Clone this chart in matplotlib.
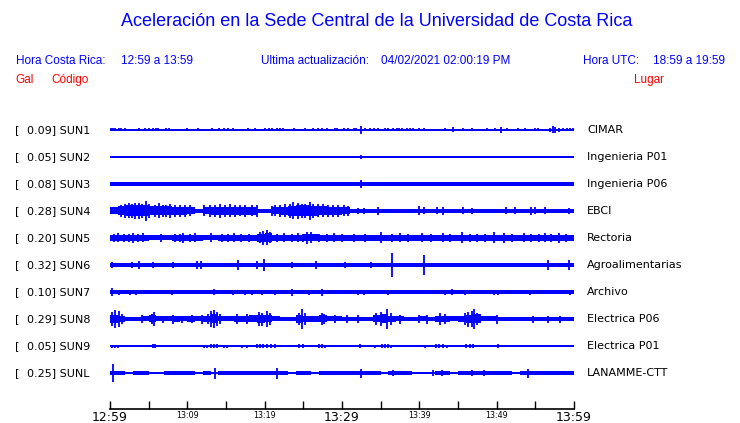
import numpy as np
import matplotlib
matplotlib.use("Agg")
import matplotlib.pyplot as plt

# ---------------- data ----------------
codes = ["SUN1", "SUN2", "SUN3", "SUN4", "SUN5", "SUN6", "SUN7", "SUN8", "SUN9", "SUNL"]
gal = [0.09, 0.05, 0.08, 0.28, 0.20, 0.32, 0.10, 0.29, 0.05, 0.25]
places = ["CIMAR", "Ingenieria P01", "Ingenieria P06", "EBCI", "Rectoria",
          "Agroalimentarias", "Archivo", "Electrica P06", "Electrica P01", "LANAMME-CTT"]

tick_minutes = list(range(0, 61, 5))
tick_labels = ["12:59", "", "13:09", "", "13:19", "", "13:29", "", "13:39", "", "13:49", "", "13:59"]
big_labels = ["12:59", "13:29", "13:59"]

# per-minute core envelope (half amplitude, relative units) for each station
env = {
    "SUN1": [0.6] * 60,
    "SUN2": [0.6] * 60,
    "SUN3": [1.7] * 60,
    "SUN4": [3.5, 4.5, 5.5, 5.5, 5.5, 4.5, 4.5, 4.5, 4, 4, 3.5, 2, 3.5, 4, 4, 4, 4, 4, 4, 2.3,
             2.3, 3.5, 4, 5, 5.5, 5.5, 5, 4.5, 4, 4, 3.5, 2.2, 1.9] + [1.7] * 27,
    "SUN5": [3.3, 3.3, 3.3, 3.3, 3.3, 2.5, 2.5, 2.5, 3.2, 3.2, 3.2, 3.2, 2.5, 2.5,
             3.2, 3.2, 3.2, 3.2, 3.2, 4.0, 4.5, 3.3, 3.3, 3.3, 3.3, 3.5, 3.5] + [3.0] * 33,
    "SUN6": [1.7] * 60,
    "SUN7": [1.8] * 60,
    "SUN8": [4, 3, 2, 2, 2.5, 3.5, 2.5, 2.5, 3, 2.5, 3, 2.5, 3, 4.5, 2.5, 2.5, 3, 3, 3.5, 4,
             3.5, 2.5, 2.2, 2, 4, 3, 3, 3.5, 2.5, 2.5, 2.3, 2.3, 2.3, 2.3, 3.5, 4.5, 3, 2.5,
             2.3, 2.3, 2.5, 2.3, 3, 3, 2.5, 3, 4, 4.5, 2.5, 2.5, 2.3, 2, 2.3, 2, 2.3,
             2.3, 2.3, 2.3, 2.3, 2.3],
    "SUN9": [0.6] * 60,
    "SUNL": [1.6, 1.6, 0.8, 1.6, 1.6, 0.8, 0.8, 1.6, 1.6, 1.6, 1.6, 0.8, 1.6, 0.8, 1.6,
             1.6, 1.6, 1.6, 1.6, 1.6, 1.6, 1.6, 1.6, 0.8, 1.6, 1.6, 0.8, 1.6, 1.6, 1.6,
             1.6, 1.6, 1.6, 1.6, 1.6, 0.8, 1.6, 1.6, 1.6, 0.8, 0.8, 0.8, 1.6, 1.6, 0.8,
             1.6, 1.6, 1.6, 1.6, 1.6, 1.6, 1.6, 0.8, 1.6, 1.6, 1.6, 1.6, 1.6, 1.6, 1.6],
}

# individual peaks: (minute, half amplitude)
sun1_t = [0.1, 0.4, 0.7, 1.1, 1.4, 1.9, 3.7, 4.5, 5.1, 5.5, 5.9, 6.2, 7.3, 7.6, 10.0, 11.4,
          13.2, 14.1, 14.7, 15.3, 15.9, 17.9, 18.8, 20.0, 20.5, 20.9, 21.6, 22.0, 22.4, 23.8,
          25.2, 26.3, 26.9, 27.4, 28.0, 29.1, 29.3, 30.2, 30.8, 31.5, 31.8, 32.4, 33.0, 33.6,
          34.1, 34.7, 35.5, 36.0, 36.6, 37.1, 37.4, 37.7, 38.4, 38.8, 39.2, 39.9, 40.6, 43.3,
          44.3, 45.7, 46.8, 48.8, 49.8, 50.5, 51.4, 52.8, 53.7, 54.9, 55.4, 56.9, 57.3, 57.6,
          58.0, 58.6, 59.1, 59.5, 59.9]
sun1_a = [1.5] * 41 + [3.7] + [1.5] * 16 + [2.5] + [1.5] * 4 + [3.0] + [1.5] * 5 + [2.0, 3.5, 3.0, 2.0] + [1.5] * 4

peaks = {
    "SUN1": list(zip(sun1_t, sun1_a)),
    "SUN2": [(32.4, 2.0), (53.9, 1.3)],
    "SUN3": [(32.4, 3.6)],
    "SUN4": [(1.4, 6), (1.9, 7), (2.4, 7.5), (2.8, 7), (3.2, 8), (3.7, 8), (4.1, 7), (4.6, 10),
             (5.0, 7), (5.8, 6), (6.3, 7.5), (6.8, 6), (7.3, 6), (7.8, 7), (8.4, 6), (9.1, 6),
             (9.7, 6), (10.3, 5.5), (12.1, 5.5), (12.9, 6), (13.6, 6), (14.2, 7), (14.9, 6),
             (15.5, 6.5), (16.2, 6), (16.8, 5.5), (17.5, 6), (18.3, 5.5), (19.0, 6),
             (20.9, 5), (21.3, 5.5), (22.0, 6), (22.6, 6.5), (23.3, 7), (23.7, 8.5),
             (24.3, 8), (24.8, 7), (25.2, 7), (25.8, 9), (26.3, 7), (26.9, 6.5), (27.6, 6.5),
             (28.2, 6), (28.9, 6), (29.5, 6), (30.2, 5.5), (30.8, 5), (32.1, 3), (32.8, 3),
             (34.7, 4), (39.9, 4.5), (40.6, 3.5), (42.3, 3.5), (43.0, 4), (45.7, 3.5),
             (46.8, 3), (51.2, 3.5), (52.4, 3.5), (54.4, 4), (55.0, 3.5), (56.3, 3.5),
             (59.3, 3)],
    "SUN5": [(0.5, 4.3), (1.0, 4.5), (1.8, 4.3), (2.4, 4.3), (3.0, 5), (3.6, 4.3), (4.3, 4.5),
             (6.6, 4), (8.4, 4.3), (9.0, 4.3), (9.5, 5), (10.3, 4.3), (11.0, 4.5),
             (13.0, 4.5), (14.5, 4.3), (15.2, 4.3), (16.0, 4.5), (17.0, 4.3), (18.0, 4.3),
             (19.4, 5.5), (19.8, 7), (20.3, 7.5), (20.7, 5.5), (21.6, 4.3), (22.5, 4.5),
             (23.5, 4.3), (24.3, 4.5), (25.0, 4.3), (25.5, 6), (26.0, 5.5), (27.0, 4.3),
             (28.0, 4.3), (29.0, 4.5), (30.0, 4.3), (31.5, 4.3), (33.0, 4.3), (35.0, 5.5),
             (36.5, 4.3), (37.5, 4.5), (38.5, 4.3), (40.3, 4.5), (41.5, 4.3), (43.0, 4.5),
             (44.0, 4.3), (45.5, 5.5), (46.5, 4.3), (47.5, 4.3), (48.5, 4.3), (49.6, 5.5),
             (51.0, 5), (52.0, 4.3), (53.5, 4.5), (54.5, 4.3), (55.5, 4.3), (56.2, 4.5),
             (57.0, 4.3), (58.0, 5), (59.0, 4.3)],
    "SUN6": [(0.2, 3), (2.9, 3), (3.7, 3.5), (5.6, 3), (8.2, 3), (11.3, 3.5), (11.8, 3.5),
             (16.6, 5), (19.0, 3.5), (19.9, 6), (23.5, 3), (26.7, 3.5), (30.4, 3), (33.8, 3),
             (36.5, 12), (40.6, 10), (56.7, 4.5), (59.3, 5.5)],
    "SUN7": [(0.3, 4), (1.2, 2.5), (2.6, 2.5), (3.3, 2.5), (8.0, 2.5), (13.4, 3), (15.9, 2.5),
             (17.5, 2.5), (18.4, 2.5), (19.6, 2.5), (21.3, 2.5), (23.5, 3.5), (25.7, 2.5),
             (27.4, 3.5), (32.1, 2.5), (32.8, 2.5), (36.0, 2.5), (39.9, 2), (43.3, 2.5),
             (44.2, 3), (45.9, 2.5), (48.3, 2), (49.6, 2.5), (50.2, 2.5), (52.4, 2),
             (54.3, 2.5), (56.7, 2), (59.5, 2.5)],
    "SUN8": [(0.2, 7), (0.6, 9), (1.1, 8), (1.5, 5), (4.2, 4), (5.4, 5.5), (5.7, 7),
             (6.9, 3.5), (8.2, 4.5), (9.3, 3.5), (10.6, 4), (11.9, 4.5), (12.7, 5.5),
             (13.1, 8), (13.4, 9), (13.8, 7), (14.2, 5), (16.4, 5), (17.7, 5), (19.3, 7),
             (19.6, 6.5), (20.3, 8), (20.7, 6), (24.4, 6), (24.8, 10), (25.2, 6), (27.4, 6),
             (27.7, 5), (29.1, 4), (30.6, 4), (32.1, 4), (34.4, 6), (35.1, 7), (35.8, 10),
             (36.4, 6), (37.5, 4.5), (39.9, 4), (41.0, 4.5), (42.7, 6), (43.3, 5.5),
             (45.9, 6), (46.3, 7.5), (46.8, 8), (47.1, 10), (47.4, 6), (50.0, 4.5),
             (54.7, 3.5), (56.7, 3.5), (58.2, 3.5)],
    "SUN9": [(0.3, 1.5), (0.6, 1.5), (1.0, 1.5), (3.2, 1.3), (4.3, 1.3), (4.9, 1.3), (5.5, 1.6),
             (5.8, 1.6), (10.0, 1.3), (10.8, 1.3), (12.1, 1.5), (12.6, 1.5), (13.1, 1.6),
             (13.5, 1.6), (13.9, 1.6), (14.7, 1.5), (15.1, 1.5), (16.6, 1.3), (17.1, 1.5),
             (17.7, 1.5), (18.3, 1.3), (19.0, 1.6), (19.4, 1.6), (19.8, 1.6), (20.3, 1.6),
             (20.8, 1.6), (21.3, 1.6), (22.0, 1.3), (22.4, 1.3), (24.4, 1.6), (24.9, 1.6),
             (27.0, 1.6), (27.4, 1.6), (27.8, 1.5), (28.7, 1.3), (29.5, 1.3), (30.2, 1.3),
             (32.3, 2.0), (33.0, 1.3), (33.4, 1.3), (34.3, 1.5), (35.2, 1.6), (35.6, 1.6),
             (36.0, 1.6), (36.4, 1.5), (37.3, 1.3), (39.0, 1.3), (40.7, 1.5), (42.1, 1.6),
             (42.5, 1.6), (43.0, 1.6), (43.6, 1.5), (45.0, 1.3), (46.0, 1.6), (46.5, 1.6),
             (47.0, 1.6), (48.5, 1.3), (50.2, 1.6), (51.5, 1.3), (52.4, 1.3), (53.5, 1.3),
             (57.6, 1.3), (59.1, 1.3)],
    "SUNL": [(0.4, 9.3), (13.6, 5.5), (21.6, 5.5), (32.4, 4.5), (36.6, 3), (41.8, 2.5),
             (42.9, 3), (46.8, 2.5), (48.4, 2.5), (54.1, 4.5)],
}

title = "Aceleración en la Sede Central de la Universidad de Costa Rica"

# ---------------- figure ----------------
W, H = 740, 423
fig = plt.figure(figsize=(W / 100, H / 100), dpi=100)
fig.patch.set_facecolor("white")

BLUE = "#0000ff"
RED = "#ff0000"


def fx(x):
    return x / W


def fy(y):
    return 1 - y / H


hdr = dict(family="Liberation Sans", fontsize=8.5, va="center")
fig.text(fx(377), fy(22), title, family="Liberation Sans", fontsize=13.0,
         color=BLUE, ha="center", va="center")
fig.text(fx(16), fy(61), "Hora Costa Rica:", color=BLUE, ha="left", **hdr)
fig.text(fx(121), fy(61), "12:59 a 13:59", color=BLUE, ha="left", **hdr)
fig.text(fx(261), fy(61), "Ultima actualización:", color=BLUE, ha="left", **hdr)
fig.text(fx(381), fy(61), "04/02/2021 02:00:19 PM", color=BLUE, ha="left", **hdr)
fig.text(fx(583), fy(61), "Hora UTC:", color=BLUE, ha="left", **hdr)
fig.text(fx(653), fy(61), "18:59 a 19:59", color=BLUE, ha="left", **hdr)
fig.text(fx(15), fy(80), "Gal", color=RED, ha="left", **hdr)
fig.text(fx(51), fy(80), "Código", color=RED, ha="left", **hdr)
fig.text(fx(634), fy(80), "Lugar", color=RED, ha="left", **hdr)

# traces axes: x 110..574 px, y 115..390 px ; trace spacing 27 px
x0, x1 = 110, 574
ytop, ybot = 115, 390
SP = 27.0
ax = fig.add_axes([fx(x0), fy(ybot), (x1 - x0) / W, (ybot - ytop) / H])
ax.set_xlim(0, 60)
top_margin = (130 - ytop) / SP
ax.set_ylim(-(len(codes) - 1) - (ybot - 373) / SP, top_margin)
ax.axis("off")

edges = np.arange(61)
for i, c in enumerate(codes):
    off = -i
    e = np.array(env[c] + [env[c][-1]]) / SP
    ax.fill_between(edges, off - e, off + e, step="post", color=BLUE, lw=0)
    if peaks[c]:
        t = np.array([p[0] for p in peaks[c]])
        a = np.array([p[1] for p in peaks[c]]) / SP
        ax.vlines(t, off - a, off + a, color=BLUE, lw=1.3)
    yc = 130 + SP * i
    fig.text(fx(15), fy(yc), "[", family="DejaVu Sans", fontsize=8, va="center", ha="left")
    fig.text(fx(27), fy(yc), f"{gal[i]:.2f}] {c}", family="DejaVu Sans", fontsize=8,
             va="center", ha="left")
    fig.text(fx(587), fy(yc), places[i], family="DejaVu Sans", fontsize=8,
             va="center", ha="left")

# time axis
tax = fig.add_axes([fx(x0), fy(409), (x1 - x0) / W, 20 / H])
tax.set_xlim(0, 60)
tax.set_ylim(0, 1)
for s in ["top", "left", "right"]:
    tax.spines[s].set_visible(False)
tax.spines["bottom"].set_linewidth(1.2)
tax.set_yticks([])
tax.set_xticks(tick_minutes)
tax.set_xticklabels(tick_labels)
tax.tick_params(axis="x", direction="in", length=6, width=1.0, pad=1.2)
for lab in tax.get_xticklabels():
    lab.set_family("DejaVu Sans")
    if lab.get_text() in big_labels:
        lab.set_fontsize(9.0)
    else:
        lab.set_fontsize(5.8)
tax.patch.set_alpha(0)

fig.savefig("out.png", dpi=100, facecolor="white")
